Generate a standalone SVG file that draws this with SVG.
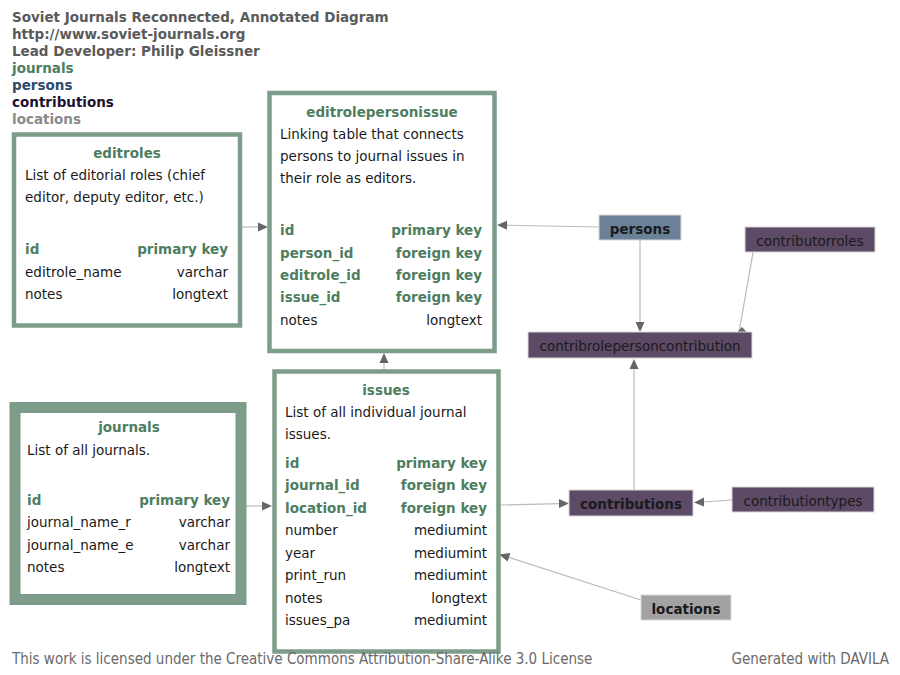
<svg xmlns="http://www.w3.org/2000/svg" width="900" height="675" viewBox="0 0 900 675">
<style>
text{font-family:"DejaVu Sans","Noto Sans",sans-serif;font-size:13.5px;fill:#1a1a1a}
.hdr{font-weight:bold;fill:#5a5a5a}
.b{font-weight:bold}
.g{fill:#4e7d60;font-weight:bold}
.t{fill:#4e7d60;font-weight:bold;text-anchor:middle}
.r{text-anchor:end}
.m{text-anchor:middle}
.tbl{fill:#fff;stroke:#7d9c8a}
.ent{stroke:#d8d8d8;stroke-width:1}
.foot{font-family:"DejaVu Sans Condensed","DejaVu Sans",sans-serif;font-size:15px;fill:#6a6a6a}
.edge{stroke:#bbbbbb;stroke-width:1.2;fill:none}
.ah{fill:#666}
</style>
<rect width="900" height="675" fill="#fff"/>
<g id="header">
<text x="12" y="22" class="hdr">Soviet Journals Reconnected, Annotated Diagram</text>
<text x="12" y="39" class="hdr">http://www.soviet-journals.org</text>
<text x="12" y="56" class="hdr">Lead Developer: Philip Gleissner</text>
<text x="12" y="73" class="b" style="fill:#4e7d60">journals</text>
<text x="12" y="90" class="b" style="fill:#2e4a6e">persons</text>
<text x="12" y="107" class="b" style="fill:#1c1230">contributions</text>
<text x="12" y="124" class="b" style="fill:#8a8a8a">locations</text>
</g>
<g id="connectors">
<line class="edge" x1="241" y1="227" x2="259" y2="227"/>
<polygon class="ah" points="268,227 258,222.5 258,231.5"/>
<line class="edge" x1="599" y1="227" x2="506" y2="225.2"/>
<polygon class="ah" points="497,225 507,220.7 507,229.7"/>
<line class="edge" x1="640" y1="240" x2="640" y2="323"/>
<polygon class="ah" points="640,332 635.5,322 644.5,322"/>
<line class="edge" x1="754" y1="247" x2="739" y2="332"/>
<polygon class="ah" points="742,327 736.5,333 747.5,333"/>
<line class="edge" x1="634" y1="490" x2="634" y2="368"/>
<polygon class="ah" points="634,359 629.5,369 638.5,369"/>
<line class="edge" x1="246" y1="506" x2="263" y2="506"/>
<polygon class="ah" points="272,506 262,501.5 262,510.5"/>
<line class="edge" x1="500" y1="505" x2="560" y2="503.6"/>
<polygon class="ah" points="569,503.5 559,499 559,508"/>
<line class="edge" x1="732" y1="500" x2="703" y2="502"/>
<polygon class="ah" points="694,502.5 704,497.5 704,506.5"/>
<line class="edge" x1="641" y1="600" x2="508" y2="557"/>
<polygon class="ah" points="499,554.5 507.6,561.5 510.4,552.9"/>
<line class="edge" x1="384" y1="370" x2="384" y2="362"/>
<polygon class="ah" points="384,353 379.5,363 388.5,363"/>
</g>
<g id="editroles">
<rect class="tbl" x="14" y="134.5" width="226" height="191" stroke-width="4.5"/>
<text x="127" y="158" class="t">editroles</text>
<text x="25" y="180">List of editorial roles (chief</text>
<text x="25" y="202">editor, deputy editor, etc.)</text>
<text x="25" y="254" class="g">id</text><text x="228" y="254" class="g r">primary key</text>
<text x="25" y="277">editrole_name</text><text x="228" y="277" class="r">varchar</text>
<text x="25" y="299">notes</text><text x="228" y="299" class="r">longtext</text>
</g>
<g id="editrolepersonissue">
<rect class="tbl" x="269.5" y="93" width="225" height="258" stroke-width="4.5"/>
<text x="382" y="117" class="t">editrolepersonissue</text>
<text x="280" y="139">Linking table that connects</text>
<text x="280" y="161">persons to journal issues in</text>
<text x="280" y="183">their role as editors.</text>
<text x="280" y="235" class="g">id</text><text x="482" y="235" class="g r">primary key</text>
<text x="280" y="258" class="g">person_id</text><text x="482" y="258" class="g r">foreign key</text>
<text x="280" y="280" class="g">editrole_id</text><text x="482" y="280" class="g r">foreign key</text>
<text x="280" y="302" class="g">issue_id</text><text x="482" y="302" class="g r">foreign key</text>
<text x="280" y="325">notes</text><text x="482" y="325" class="r">longtext</text>
</g>
<g id="journals">
<rect class="tbl" x="15" y="407.5" width="226" height="192" stroke-width="11"/>
<text x="129" y="432" class="t">journals</text>
<text x="27" y="455">List of all journals.</text>
<text x="27" y="505" class="g">id</text><text x="230" y="505" class="g r">primary key</text>
<text x="27" y="527">journal_name_r</text><text x="230" y="527" class="r">varchar</text>
<text x="27" y="550">journal_name_e</text><text x="230" y="550" class="r">varchar</text>
<text x="27" y="572">notes</text><text x="230" y="572" class="r">longtext</text>
</g>
<g id="issues">
<rect class="tbl" x="274.5" y="371.5" width="224" height="280" stroke-width="4.5"/>
<text x="386" y="395" class="t">issues</text>
<text x="285" y="417">List of all individual journal</text>
<text x="285" y="439">issues.</text>
<text x="285" y="468" class="g">id</text><text x="487" y="468" class="g r">primary key</text>
<text x="285" y="490" class="g">journal_id</text><text x="487" y="490" class="g r">foreign key</text>
<text x="285" y="513" class="g">location_id</text><text x="487" y="513" class="g r">foreign key</text>
<text x="285" y="535">number</text><text x="487" y="535" class="r">mediumint</text>
<text x="285" y="558">year</text><text x="487" y="558" class="r">mediumint</text>
<text x="285" y="580">print_run</text><text x="487" y="580" class="r">mediumint</text>
<text x="285" y="603">notes</text><text x="487" y="603" class="r">longtext</text>
<text x="285" y="625">issues_pa</text><text x="487" y="625" class="r">mediumint</text>
</g>
<g id="persons">
<rect class="ent" x="599" y="215" width="82" height="25" fill="#6a8198"/>
<text x="640" y="234" class="b m">persons</text>
</g>
<g id="contributorroles">
<rect class="ent" x="745" y="227" width="130" height="25" fill="#5c4a66"/>
<text x="810" y="246" class="m">contributorroles</text>
</g>
<g id="contribrolepersoncontribution">
<rect class="ent" x="528" y="332" width="224" height="26" fill="#5c4a66"/>
<text x="640" y="351" class="m">contribrolepersoncontribution</text>
</g>
<g id="contributions">
<rect class="ent" x="569" y="490" width="124" height="26" fill="#5c4a66"/>
<text x="631" y="509" class="b m">contributions</text>
</g>
<g id="contributiontypes">
<rect class="ent" x="732" y="487" width="142" height="25" fill="#5c4a66"/>
<text x="803" y="506" class="m">contributiontypes</text>
</g>
<g id="locations">
<rect class="ent" x="641" y="595" width="90" height="25" fill="#a2a2a2"/>
<text x="686" y="614" class="b m">locations</text>
</g>
<g id="footer">
<text x="12" y="664" class="foot">This work is licensed under the Creative Commons Attribution-Share-Alike 3.0 License</text>
<text x="889" y="664" class="foot r">Generated with DAVILA</text>
</g>
</svg>
